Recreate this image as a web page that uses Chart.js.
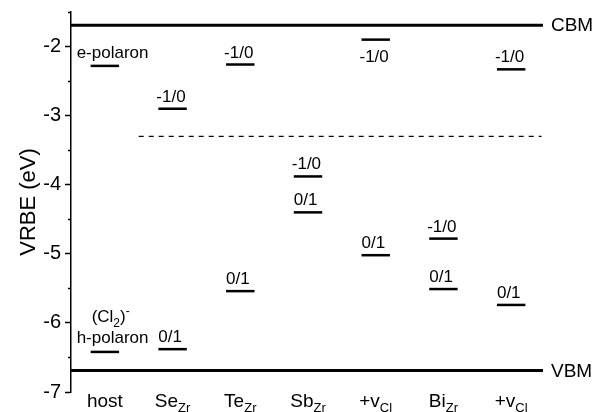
<!DOCTYPE html>
<html>
<head>
<meta charset="utf-8">
<script src="https://cdn.jsdelivr.net/npm/chart.js@4.4.0/dist/chart.umd.min.js"></script>
<style>
  body { margin: 0; background: #fff; }
  #wrap { width: 612px; height: 412px; }
</style>
</head>
<body>
<div id="wrap"><canvas id="myChart" width="612" height="412"></canvas></div>
<script>
// data
var categories = ['host', 'Se', 'Te', 'Sb', '+v', 'Bi', '+v'];
var catSubs = ['', 'Zr', 'Zr', 'Zr', 'Cl', 'Zr', 'Cl'];
var acceptorLevels = [-2.28, -2.90, -2.26, -3.88, -1.90, -4.78, -2.33];
var acceptorLabels = ['e-polaron', '-1/0', '-1/0', '-1/0', '-1/0', '-1/0', '-1/0'];
var donorLevels = [-6.42, -6.38, -5.54, -4.40, -5.02, -5.51, -5.74];
var donorLabels = ['h-polaron', '0/1', '0/1', '0/1', '0/1', '0/1', '0/1'];
var cbm = -1.69;
var vbm = -6.69;
var dashedLevel = -3.30;

var FONT = '"Liberation Sans", Arial, sans-serif';
var half = 0.21;

var datasets = [];
function addBar(x, y) {
  datasets.push({
    data: [{x: x - half, y: y}, {x: x + half, y: y}],
    borderColor: '#000', borderWidth: 2.5, pointRadius: 0, fill: false
  });
}
for (var i = 0; i < categories.length; i++) {
  addBar(i + 1, acceptorLevels[i]);
  addBar(i + 1, donorLevels[i]);
}
datasets.push({data: [{x: 0.5, y: cbm}, {x: 7.47, y: cbm}], borderColor: '#000', borderWidth: 3, pointRadius: 0});
datasets.push({data: [{x: 0.5, y: vbm}, {x: 7.47, y: vbm}], borderColor: '#000', borderWidth: 3, pointRadius: 0});
datasets.push({data: [{x: 1.5, y: dashedLevel}, {x: 7.45, y: dashedLevel}], borderColor: '#000', borderWidth: 1.2, borderDash: [5, 5], pointRadius: 0});

var labelPlugin = {
  id: 'labels',
  afterDraw: function(chart) {
    var c = chart.ctx, xs = chart.scales.x, ys = chart.scales.y;
    c.save();
    c.fillStyle = '#000';
    c.strokeStyle = '#000';

    // minor ticks
    c.lineWidth = 1.5;
    for (var v = -6.5; v <= -1.5; v += 1) {
      var py = Math.round(ys.getPixelForValue(v)) + 0.5;
      c.beginPath();
      c.moveTo(ys.right - 3, py);
      c.lineTo(ys.right, py);
      c.stroke();
    }

    // level labels
    c.font = '17px ' + FONT;
    c.textAlign = 'left';
    c.textBaseline = 'alphabetic';
    for (var i = 0; i < categories.length; i++) {
      var left = xs.getPixelForValue(i + 1 - half);
      var ay = ys.getPixelForValue(acceptorLevels[i]);
      var dy = ys.getPixelForValue(donorLevels[i]);
      if (i === 0) {
        c.fillText(acceptorLabels[i], left - 14, ay - 8);
        c.fillText(donorLabels[i], left - 14, dy - 9);
        // (Cl2)^-
        var tx = left + 1, ty = dy - 30;
        c.fillText('(Cl', tx, ty);
        tx += c.measureText('(Cl').width;
        c.font = '12px ' + FONT;
        c.fillText('2', tx, ty + 5);
        tx += c.measureText('2').width;
        c.font = '17px ' + FONT;
        c.fillText(')', tx, ty);
        tx += c.measureText(')').width;
        c.font = '12px ' + FONT;
        c.fillText('-', tx, ty - 7);
        c.font = '17px ' + FONT;
        continue;
      }
      if (i === 4) {
        c.fillText(acceptorLabels[i], left - 2, ay + 22);
      } else {
        c.fillText(acceptorLabels[i], left - 2, ay - 7);
      }
      c.fillText(donorLabels[i], left, dy - 7);
    }

    // CBM / VBM
    c.font = '19px ' + FONT;
    c.textBaseline = 'middle';
    var ex = xs.getPixelForValue(7.47) + 8;
    c.fillText('CBM', ex, ys.getPixelForValue(cbm) + 1);
    c.fillText('VBM', ex, ys.getPixelForValue(vbm) + 1);

    // category labels with subscripts
    c.textBaseline = 'alphabetic';
    for (var j = 0; j < categories.length; j++) {
      c.font = '19px ' + FONT;
      var w1 = c.measureText(categories[j]).width;
      c.font = '13px ' + FONT;
      var w2 = catSubs[j] ? c.measureText(catSubs[j]).width : 0;
      var cx = xs.getPixelForValue(j + 1) - (w1 + w2) / 2;
      c.font = '19px ' + FONT;
      c.fillText(categories[j], cx, 407);
      if (catSubs[j]) {
        c.font = '13px ' + FONT;
        c.fillText(catSubs[j], cx + w1, 412);
      }
    }
    c.restore();
  }
};

var ctx = document.getElementById('myChart');
var myChart = new Chart(ctx, {
  type: 'line',
  data: { datasets: datasets },
  plugins: [labelPlugin],
  options: {
    responsive: false,
    animation: false,
    layout: { padding: { left: 0, top: 12, right: 67, bottom: 20 } },
    plugins: { legend: { display: false }, tooltip: { enabled: false } },
    scales: {
      x: { type: 'linear', display: false, min: 0.5, max: 7.5 },
      y: {
        type: 'linear',
        min: -7, max: -1.5,
        afterFit: function(scale) {
          scale.width = 71;
          scale.paddingTop = 0;
          scale.paddingBottom = 0;
        },
        border: { display: true, color: '#000', width: 1.5 },
        grid: {
          drawOnChartArea: false,
          tickLength: 6,
          tickWidth: 1.5,
          tickColor: function(c) { return Number.isInteger(c.tick.value) ? '#000' : 'rgba(0,0,0,0)'; }
        },
        ticks: {
          stepSize: 0.5,
          color: '#000',
          padding: 4,
          font: { family: FONT, size: 20 },
          callback: function(v) { return Number.isInteger(v) ? String(v) : ''; }
        },
        title: {
          display: true,
          text: 'VRBE (eV)',
          color: '#000',
          padding: { top: 16, bottom: 0 },
          font: { family: FONT, size: 22 }
        }
      }
    }
  }
});
</script>
</body>
</html>
